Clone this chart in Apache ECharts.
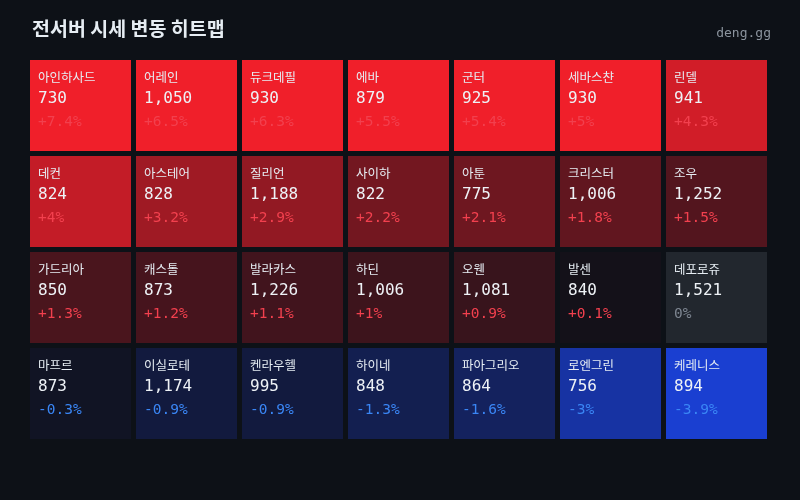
<!DOCTYPE html>
<html lang="ko">
<head>
  <meta charset="UTF-8">
  <title>전서버 시세 변동 히트맵</title>
  <script src="https://cdn.jsdelivr.net/npm/echarts@6/dist/echarts.min.js"></script>
  <style>
    html, body { margin: 0; padding: 0; background: #0d1117; }
    #chart { width: 800px; height: 500px; }
  </style>
</head>
<body>
<div id="chart"></div>
<script>
  // grid data, row-major, 7 columns x 4 rows
  const cols = ['c1', 'c2', 'c3', 'c4', 'c5', 'c6', 'c7'];
  const rows = ['r1', 'r2', 'r3', 'r4'];
  const servers = [
    '아인하사드', '어레인', '듀크데필', '에바', '군터', '세바스챤', '린델',
    '데컨', '아스테어', '질리언', '사이하', '아툰', '크리스터', '조우',
    '가드리아', '캐스톨', '발라카스', '하딘', '오웬', '발센', '데포로쥬',
    '마프르', '이실로테', '켄라우헬', '하이네', '파아그리오', '로엔그린', '케레니스'
  ];
  const prices = [
    730, 1050, 930, 879, 925, 930, 941,
    824, 828, 1188, 822, 775, 1006, 1252,
    850, 873, 1226, 1006, 1081, 840, 1521,
    873, 1174, 995, 848, 864, 756, 894
  ];
  const changes = [
    7.4, 6.5, 6.3, 5.5, 5.4, 5, 4.3,
    4, 3.2, 2.9, 2.2, 2.1, 1.8, 1.5,
    1.3, 1.2, 1.1, 1, 0.9, 0.1, 0,
    -0.3, -0.9, -0.9, -1.3, -1.6, -3, -3.9
  ];

  const base = [16, 17, 25];
  const red = [240, 31, 42];
  const blue = [26, 64, 214];
  function mix(a, b, t) {
    t = Math.max(0, Math.min(1, t));
    return 'rgb(' + a.map((v, i) => Math.round(v + (b[i] - v) * t)).join(',') + ')';
  }
  function cellColor(c) {
    if (c === 0) return '#22272e';
    if (c > 0) return mix(base, red, c / 5);
    return mix(base, blue, Math.pow(-c / 4, 1.1));
  }
  function pctText(c) {
    return (c > 0 ? '+' : '') + c + '%';
  }
  function pctColor(c) {
    if (c === 0) return '#7d8590';
    return c > 0 ? '#f2404e' : '#3a86f5';
  }

  const cellData = servers.map((s, i) => [i % 7, Math.floor(i / 7), i]);

  const chart = echarts.init(document.getElementById('chart'));
  const mono = '"DejaVu Sans Mono", monospace';
  const kr = '"Noto Sans CJK KR", "Noto Sans", sans-serif';

  chart.setOption({
    backgroundColor: '#0d1117',
    animation: false,
    title: [{
      text: '전서버 시세 변동 히트맵',
      left: 27, top: 14,
      textStyle: { color: '#e6edf3', fontSize: 19.5, fontWeight: 'bold', fontFamily: kr }
    }, {
      text: 'deng.gg',
      right: 24, top: 22,
      textStyle: { color: '#8b949e', fontSize: 13, fontWeight: 'normal', fontFamily: mono }
    }],
    grid: { left: 30, top: 60, width: 742, height: 384 },
    xAxis: { type: 'category', data: cols, show: false },
    yAxis: { type: 'category', data: rows, inverse: true, show: false },
    series: [{
      type: 'custom',
      data: cellData,
      renderItem: function (params, api) {
        const i = api.value(2);
        const center = api.coord([api.value(0), api.value(1)]);
        const size = api.size([1, 1]);
        const x0 = center[0] - size[0] / 2;
        const y0 = center[1] - size[1] / 2;
        const c = changes[i];
        return {
          type: 'group',
          children: [{
            type: 'rect',
            shape: { x: x0, y: y0, width: size[0] - 5, height: size[1] - 5 },
            style: { fill: cellColor(c) }
          }, {
            type: 'text',
            style: {
              text: servers[i], x: x0 + 8, y: y0 + 17, verticalAlign: 'middle',
              fill: '#e6edf3', fontSize: 12.5, fontFamily: kr
            }
          }, {
            type: 'text',
            style: {
              text: prices[i].toLocaleString('en-US'), x: x0 + 8, y: y0 + 39, verticalAlign: 'middle',
              fill: '#eef2f6', fontSize: 16, fontFamily: mono
            }
          }, {
            type: 'text',
            style: {
              text: pctText(c), x: x0 + 8, y: y0 + 62, verticalAlign: 'middle',
              fill: pctColor(c), fontSize: 14.5, fontFamily: mono
            }
          }]
        };
      }
    }]
  });
</script>
</body>
</html>
